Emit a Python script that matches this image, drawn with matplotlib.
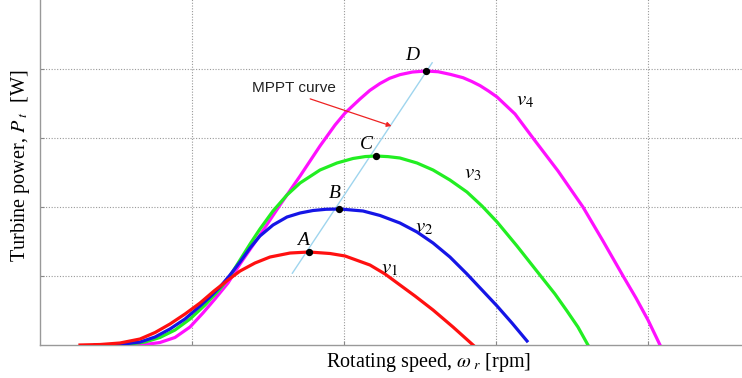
import numpy as np
import matplotlib
matplotlib.use("Agg")
import matplotlib.pyplot as plt

plt.rcParams['mathtext.fontset'] = 'stix'

# curves (grid units, x: rotating speed, y: power)
v1_x = [0.263, 0.395, 0.526, 0.658, 0.757, 0.855, 0.954, 1.053, 1.145, 1.237, 1.316, 1.414,
        1.513, 1.645, 1.770, 1.908, 2.007, 2.171, 2.270, 2.368, 2.467, 2.586, 2.717, 2.849]
v1_y = [0.000, 0.007, 0.029, 0.087, 0.181, 0.304, 0.449, 0.609, 0.783, 0.942, 1.072, 1.188,
        1.275, 1.333, 1.348, 1.326, 1.290, 1.159, 1.029, 0.870, 0.710, 0.507, 0.261, 0.000]

v2_x = [0.362, 0.461, 0.559, 0.658, 0.757, 0.855, 0.954, 1.053, 1.118, 1.184, 1.250, 1.316,
        1.382, 1.447, 1.533, 1.625, 1.711, 1.796, 1.882, 1.974, 2.125, 2.237, 2.368, 2.480,
        2.586, 2.697, 2.809, 2.908, 3.007, 3.105, 3.204]
v2_y = [0.000, 0.004, 0.017, 0.043, 0.116, 0.232, 0.377, 0.565, 0.696, 0.841, 1.014, 1.203,
        1.406, 1.580, 1.739, 1.855, 1.913, 1.949, 1.967, 1.971, 1.942, 1.877, 1.768, 1.638,
        1.478, 1.275, 1.029, 0.797, 0.565, 0.319, 0.058]

v3_x = [0.395, 0.493, 0.592, 0.691, 0.789, 0.888, 0.987, 1.086, 1.184, 1.250, 1.316, 1.382,
        1.447, 1.533, 1.625, 1.711, 1.842, 1.954, 2.059, 2.140, 2.211, 2.290, 2.368, 2.480,
        2.586, 2.697, 2.809, 2.908, 3.007, 3.138, 3.289, 3.388, 3.467, 3.539, 3.605]
v3_y = [0.000, 0.004, 0.014, 0.043, 0.109, 0.217, 0.377, 0.580, 0.812, 1.000, 1.232, 1.464,
        1.681, 1.942, 2.174, 2.348, 2.536, 2.638, 2.703, 2.731, 2.739, 2.730, 2.710, 2.638,
        2.536, 2.391, 2.217, 2.014, 1.783, 1.435, 1.014, 0.739, 0.493, 0.261, 0.000]

v4_x = [0.592, 0.691, 0.789, 0.888, 0.987, 1.072, 1.151, 1.237, 1.316, 1.447, 1.579, 1.711,
        1.842, 1.941, 2.007, 2.105, 2.170, 2.237, 2.300, 2.368, 2.450, 2.539, 2.620, 2.700,
        2.783, 2.840, 2.895, 2.950, 3.007, 3.125, 3.243, 3.408, 3.572, 3.704, 3.836, 3.921,
        4.000, 4.079]
v4_y = [0.000, 0.007, 0.036, 0.109, 0.261, 0.464, 0.667, 0.899, 1.174, 1.594, 2.029, 2.449,
        2.884, 3.188, 3.362, 3.565, 3.690, 3.790, 3.865, 3.918, 3.956, 3.971, 3.960, 3.922,
        3.874, 3.820, 3.759, 3.682, 3.594, 3.348, 3.000, 2.522, 2.000, 1.507, 1.000, 0.681,
        0.362, 0.000]

# maximum power points A-D and the MPPT line
mpp_labels = ['A', 'B', 'C', 'D']
mpp_x = [1.77, 1.97, 2.21, 2.54]
mpp_y = [1.35, 1.97, 2.74, 3.97]
mppt_x = [1.66, 2.58]
mppt_y = [1.04, 4.09]

curves = [(v4_x, v4_y, '#ff10ff', r'$v_4$', (3.19, 3.55)),
          (v3_x, v3_y, '#22ee22', r'$v_3$', (2.85, 2.49)),
          (v2_x, v2_y, '#1515e6', r'$v_2$', (2.53, 1.71)),
          (v1_x, v1_y, '#ff1010', r'$v_1$', (2.30, 1.12))]

fig = plt.figure(figsize=(7.42, 3.78), dpi=100)
# the plot box runs a little past the right and top edges of the picture
ax = fig.add_axes([40 / 742, 33 / 378, 778 / 742, 358 / 378])

for xs, ys, col, lab, pos in curves:
    ax.plot(xs, ys, color=col, lw=2.3, solid_joinstyle='round', zorder=3)
    ax.text(pos[0], pos[1], lab, fontsize=15, ha='center', va='center')

ax.plot(mppt_x, mppt_y, color='#9fd5ee', lw=1.0, zorder=2)
ax.scatter(mpp_x, mpp_y, s=18, color='black', zorder=5)

label_off = [(-0.04, 0.16), (-0.03, 0.22), (-0.06, 0.17), (-0.09, 0.23)]
for lab, x, y, off in zip(mpp_labels, mpp_x, mpp_y, label_off):
    ax.text(x + off[0], y + off[1], lab, fontsize=14, style='italic',
            family='Liberation Serif', ha='center', va='center')

ax.annotate('', xy=(2.33, 3.16), xytext=(1.76, 3.58),
            arrowprops=dict(arrowstyle='-|>', color='#ee2222', lw=0.9,
                            mutation_scale=7))
ax.text(1.67, 3.73, 'MPPT curve', fontsize=11, family='Liberation Sans',
        ha='center', va='center', color='#222222')

ax.set_xlim(0, 778 / 152)
ax.set_ylim(0, 358 / 69)
ax.set_xticks([1, 2, 3, 4])
ax.set_yticks([1, 2, 3, 4])
ax.set_xticklabels([])
ax.set_yticklabels([])
ax.tick_params(direction='in', length=3, color='#888888')
ax.grid(True, color='#999999', linestyle=(0, (1, 1.5)), lw=0.8)
for s in ['top', 'right']:
    ax.spines[s].set_visible(False)
for s in ['left', 'bottom']:
    ax.spines[s].set_color('#999999')
    ax.spines[s].set_linewidth(1.0)

ax.set_xlabel(r'Rotating speed, $\omega_{\ r}$ [rpm]', fontsize=14.5,
              family='Liberation Serif', labelpad=1)
ax.set_ylabel(r'Turbine power, $P_{\ t}$  [W]', fontsize=14.5,
              family='Liberation Serif', labelpad=2)

fig.savefig('out.png', dpi=100)
